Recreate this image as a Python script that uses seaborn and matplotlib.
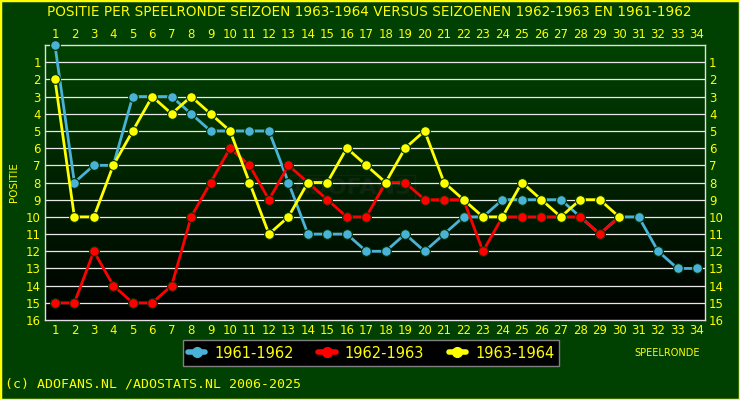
import numpy as np
import pandas as pd
import matplotlib
matplotlib.use("Agg")
import matplotlib.pyplot as plt
from matplotlib.patches import Rectangle
from matplotlib.lines import Line2D
from matplotlib.colors import LinearSegmentedColormap
import seaborn as sns

rounds = list(range(1, 35))
s1961 = [0, 8, 7, 7, 3, 3, 3, 4, 5, 5, 5, 5, 8, 11, 11, 11, 12, 12, 11, 12,
         11, 10, 10, 9, 9, 9, 9, 10, 11, 10, 10, 12, 13, 13]
s1962 = [15, 15, 12, 14, 15, 15, 14, 10, 8, 6, 7, 9, 7, 8, 9, 10, 10, 8, 8, 9,
         9, 9, 12, 10, 10, 10, 10, 10, 11, 10]
s1963 = [2, 10, 10, 7, 5, 3, 4, 3, 4, 5, 8, 11, 10, 8, 8, 6, 7, 8, 6, 5,
         8, 9, 10, 10, 8, 9, 10, 9, 9, 10]
seasons = ["1961-1962", "1962-1963", "1963-1964"]
colors = ["#4ab2d6", "#ff0000", "#ffff00"]
title = "POSITIE PER SPEELRONDE SEIZOEN 1963-1964 VERSUS SEIZOENEN 1962-1963 EN 1961-1962"

sns.set_theme(style="white")
plt.rcParams['font.family'] = ['DejaVu Sans']

bg = "#004000"
yellow = "#ffff00"
fig = plt.figure(figsize=(7.4, 4.0), dpi=100, facecolor=bg)
ax = fig.add_axes([45/740, 80/400, 660/740, 275/400])

xlim = (0.49, 34.41)
ylim = (16, 0)
grad = np.linspace(0, 1, 256).reshape(-1, 1)
cmap = LinearSegmentedColormap.from_list("g", ["#004200", "#000000"])
ax.imshow(grad, aspect="auto", cmap=cmap, extent=[xlim[0], xlim[1], 16, 0],
          zorder=0, origin="upper")
ax.set_xlim(*xlim)
ax.set_ylim(*ylim)

for y in range(1, 16):
    ax.axhline(y, color="#e8e8e8", lw=0.9, zorder=1)

data = [s1961, s1962, s1963]
for name, vals, c in zip(seasons, data, colors):
    df = pd.DataFrame({"ronde": rounds[:len(vals)], "positie": vals})
    sns.lineplot(data=df, x="ronde", y="positie", ax=ax, color=c, lw=2.0,
                 marker="o", markersize=7, markeredgecolor="#003000",
                 markeredgewidth=0.8, zorder=3, clip_on=False, legend=False)

ax.set_xlabel("")
ax.set_ylabel("")
ax.set_xticks(rounds)
ax.set_xticklabels([str(r) for r in rounds])
ax.set_yticks(range(1, 17))
ax.set_yticklabels([str(v) for v in range(1, 17)])
ax.tick_params(axis="both", length=0, colors=yellow, labelsize=8.5, pad=3,
               top=True, labeltop=True, right=True, labelright=True)
for sp in ax.spines.values():
    sp.set_color("#e0e0e0")
    sp.set_linewidth(1.0)

fig.text(369/740, 1 - 12/400, title, color=yellow, fontsize=9.8,
         ha="center", va="center")
fig.text(14/740, 1 - 182/400, "POSITIE", color=yellow, fontsize=7.5,
         rotation=90, ha="center", va="center")
fig.text(667/740, 1 - 353/400, "SPEELRONDE", color=yellow, fontsize=7,
         ha="center", va="center")
fig.text(5/740, 1 - 384/400, "(c) ADOFANS.NL /ADOSTATS.NL 2006-2025",
         color=yellow, fontsize=9.5, ha="left", va="center",
         family="DejaVu Sans Mono")

# watermark
ax.text(16.3, 8.3, "ADOFANS", color="#1a2a1a", fontsize=16, fontweight="bold",
        ha="center", va="center", zorder=0.5, alpha=0.6,
        bbox=dict(facecolor="none", edgecolor="#1a2a1a", alpha=0.6, pad=2))

handles = [Line2D([0], [0], color=c, lw=4, marker="o", markersize=7,
                  markeredgecolor=c) for c in colors]
leg = fig.legend(handles, seasons, loc="center",
                 bbox_to_anchor=(371/740, 1 - 353/400), ncol=3,
                 facecolor="black", edgecolor="#808080", framealpha=1,
                 fontsize=10.5, handlelength=1.2, handletextpad=0.6,
                 columnspacing=1.7, borderpad=0.35, fancybox=False)
for t in leg.get_texts():
    t.set_color(yellow)
leg.get_frame().set_linewidth(1.0)

fig.patches.append(Rectangle((0, 0), 1, 1, transform=fig.transFigure,
                             fill=False, edgecolor=yellow, lw=2.5))

fig.savefig("out.png", dpi=100, facecolor=bg)
